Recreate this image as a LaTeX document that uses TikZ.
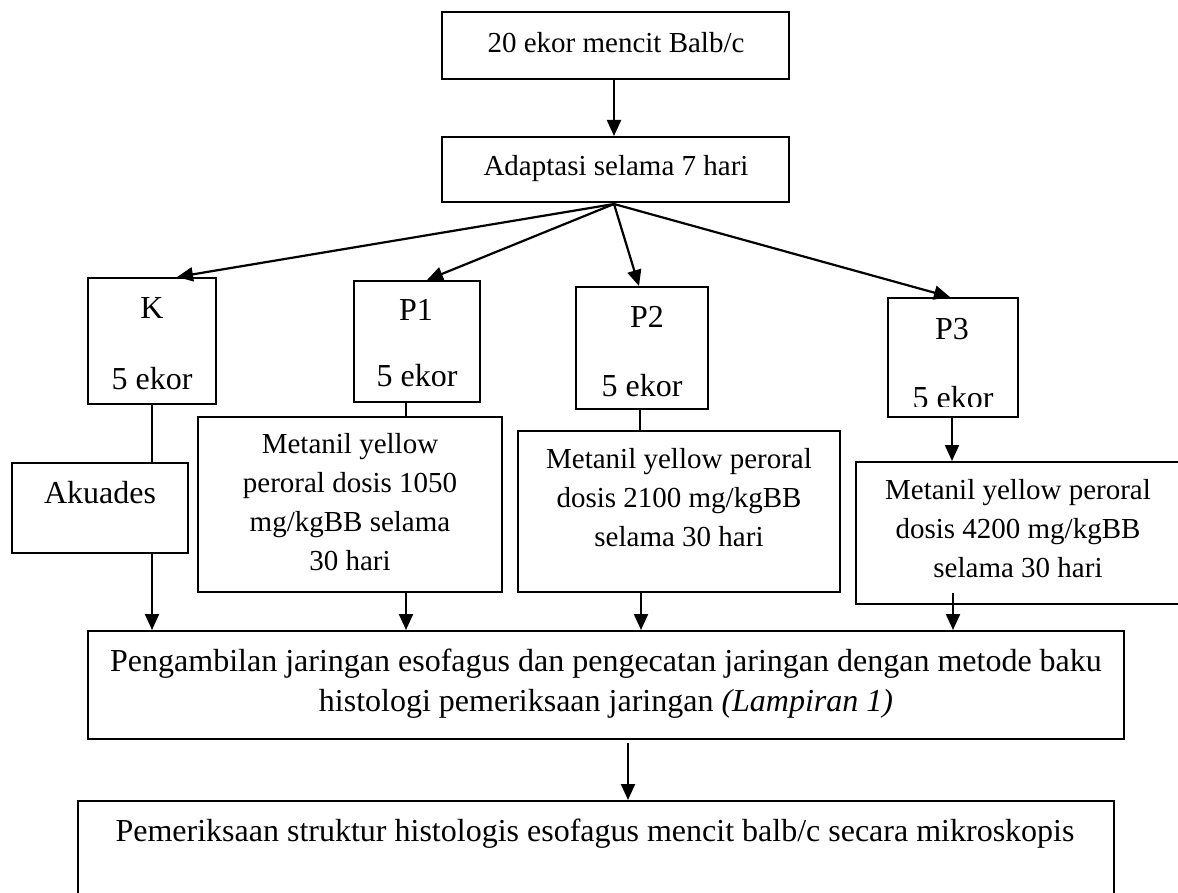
\documentclass[tikz,border=0pt]{standalone}
\usepackage{fontspec}
\setmainfont{Liberation Serif}
\usetikzlibrary{arrows.meta,calc}
\newcommand\szA{\fontsize{29}{39}\selectfont}
\newcommand\szB{\fontsize{32}{40}\selectfont}
\begin{document}
\begin{tikzpicture}[x=1pt,y=-1pt,
  box/.style={draw,line width=2pt,inner sep=0pt,rectangle},
  txt/.style={inner sep=0pt,anchor=base},
  conn/.style={line width=2.2pt},
  arr/.style={line width=2.2pt,-{Triangle[length=16pt,width=14pt]}}]
\useasboundingbox (0,0) rectangle (1178,893);
\clip (0,0) rectangle (1178,893);
% boxes
\node[box,minimum width=347pt,minimum height=67pt] (b1) at (615.5,45.5) {};
\node[box,minimum width=347pt,minimum height=65pt] (b2) at (615.5,169.5) {};
\node[box,minimum width=128pt,minimum height=126pt] (k) at (152,341) {};
\node[box,minimum width=126pt,minimum height=121pt] (p1) at (417,341.5) {};
\node[box,minimum width=132pt,minimum height=122pt] (p2) at (642,348) {};
\node[box,minimum width=130pt,minimum height=119pt] (p3) at (953,357.5) {};
\node[box,minimum width=176pt,minimum height=90pt] (aq) at (100,508) {};
\node[box,minimum width=304pt,minimum height=175pt] (m1) at (350,504.5) {};
\node[box,minimum width=322pt,minimum height=161pt] (m2) at (679,511.5) {};
\node[box,minimum width=326pt,minimum height=142pt] (m3) at (1019,533) {};
\node[box,minimum width=1036pt,minimum height=108pt] (big) at (606,685) {};
\node[box,minimum width=1036pt,minimum height=104pt] (fin) at (596,853) {};
% texts
\node[txt,font=\szA] (t1) at (616,53) {20 ekor mencit Balb/c};
\node[txt,font=\szA] (t2) at (616,176) {Adaptasi selama 7 hari};
\node[txt,font=\szB] (tk1) at (152,319) {K};
\node[txt,font=\szB] (tk2) at (152,389) {5 ekor};
\node[txt,font=\szB] (tp11) at (416,321) {P1};
\node[txt,font=\szB] (tp12) at (417,386) {5 ekor};
\node[txt,font=\szB] (tp21) at (647,327) {P2};
\node[txt,font=\szB] (tp22) at (642,396) {5 ekor};
\node[txt,font=\szB] (tp31) at (952,339) {P3};
\begin{scope}
\clip (888,298) rectangle (1018,406);
\node[txt,font=\szB] (tp32) at (953,408) {5 ekor};
\end{scope}
\node[txt,font=\szB] (taq) at (100,503) {Akuades};
\node[txt,font=\szA] (tm11) at (350,453) {Metanil yellow};
\node[txt,font=\szA] (tm12) at (350,492) {peroral dosis 1050};
\node[txt,font=\szA] (tm13) at (350,531) {mg/kgBB selama};
\node[txt,font=\szA] (tm14) at (350,570) {30 hari};
\node[txt,font=\szA] (tm21) at (679,468) {Metanil yellow peroral};
\node[txt,font=\szA] (tm22) at (679,507) {dosis 2100 mg/kgBB};
\node[txt,font=\szA] (tm23) at (679,546) {selama 30 hari};
\node[txt,font=\szA] (tm31) at (1018,499) {Metanil yellow peroral};
\node[txt,font=\szA] (tm32) at (1018,538) {dosis 4200 mg/kgBB};
\node[txt,font=\szA] (tm33) at (1018,577) {selama 30 hari};
\node[txt,font=\szB] (tb1) at (606,671) {Pengambilan jaringan esofagus dan pengecatan jaringan dengan metode baku};
\node[txt,font=\szB] (tb2) at (606,711) {histologi pemeriksaan jaringan \textit{(Lampiran 1)}};
\node[txt,font=\szB] (tf) at (595,841) {Pemeriksaan struktur histologis esofagus mencit balb/c secara mikroskopis};
% connectors
\draw[arr] ($(b1.south)+(-1.5,0)$) -- ($(b2.north)+(-1.5,0)$);
\coordinate (apex) at ($(b2.south)+(-1.5,1)$);
\draw[arr] (apex) -- ($(k.north)+(25,0)$);
\draw[arr] (apex) -- ($(p1.north)+(10,0)$);
\draw[arr] (apex) -- ($(p2.north)+(-3,0)$);
\draw[arr] (apex) -- ($(p3.north)+(-3,0)$);
\draw[conn] (k.south) -- (k.south |- aq.north);
\draw[arr] (k.south |- aq.south) -- (k.south |- big.north);
\draw[conn] ($(p1.south)+(-11,0)$) -- ($(p1.south |- m1.north)+(-11,0)$);
\draw[arr] ($(p1.south |- m1.south)+(-11,0)$) -- ($(p1.south |- big.north)+(-11,0)$);
\draw[conn] ($(p2.south)+(-2,0)$) -- ($(p2.south |- m2.north)+(-2,0)$);
\draw[arr] ($(p2.south |- m2.south)+(-1,0)$) -- ($(p2.south |- big.north)+(-1,0)$);
\draw[arr] ($(p3.south)+(-1,0)$) -- ($(p3.south |- m3.north)+(-1,0)$);
\draw[arr] ($(p3.south |- m3.south)+(0,-12)$) -- (p3.south |- big.north);
\draw[arr] ($(big.south)+(22,3)$) -- ($(fin.north)+(32,0)$);
\end{tikzpicture}
\end{document}
